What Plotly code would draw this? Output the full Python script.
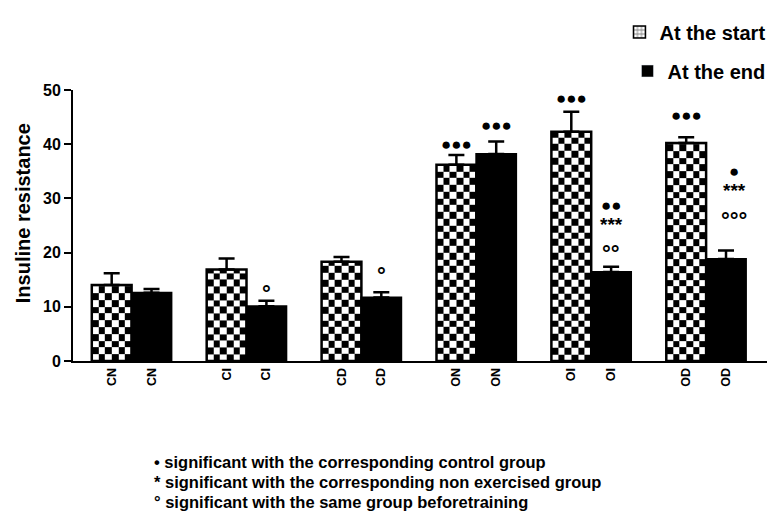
import plotly.graph_objects as go
import numpy as np

groups = ["CN", "CI", "CD", "ON", "OI", "OD"]
start_vals = [14.0, 16.9, 18.3, 36.2, 42.3, 40.2]
start_err = [2.2, 2.0, 0.9, 1.8, 3.7, 1.1]
end_vals = [12.6, 10.1, 11.7, 38.2, 16.4, 18.8]
end_err = [0.7, 1.0, 1.0, 2.3, 1.0, 1.6]

# significance marks: (group index, which bar, text, y level)
sig_group = [3, 4, 5, 3, 1, 2, 4, 4, 4, 5, 5, 5]
sig_bar = ["start", "start", "start", "end", "end", "end", "end", "end", "end", "end", "end", "end"]
sig_text = ["●●●", "●●●", "●●●", "●●●", "°", "°", "●●", "***", "°°", "●", "***", "°°°"]
sig_y = [40.0, 48.5, 45.3, 43.4, 13.4, 16.7, 28.7, 25.8, 20.8, 34.9, 32.0, 26.9]

notes = ["• significant with the corresponding control group",
         "* significant with the corresponding non exercised group",
         "° significant with the same group beforetraining"]

FONT = "Liberation Sans, Arial, sans-serif"
W = 0.3465          # bar width (axis units)
CELL_Y = 1.25

xs = np.arange(len(groups))
fig = go.Figure()

# checkerboard fill of "start" bars via heatmaps built from the values
for i, v in enumerate(start_vals):
    x_edges = np.linspace(i - W, i, 7)
    y_edges = list(np.arange(0, v, CELL_Y)) + [v]
    nr = len(y_edges) - 1
    z = [[(r + c) % 2 for c in range(6)] for r in range(nr)]
    fig.add_trace(go.Heatmap(x=x_edges, y=y_edges, z=z, zmin=0, zmax=1,
                             colorscale=[[0, "white"], [1, "black"]],
                             showscale=False, hoverinfo="skip"))

fig.add_trace(go.Bar(
    x=xs, y=start_vals, offset=-W, width=W, showlegend=False,
    marker=dict(color="rgba(0,0,0,0)", line=dict(color="black", width=2.5)),
    error_y=dict(type="data", array=start_err, arrayminus=[0]*6, symmetric=False,
                 color="black", thickness=2.5, width=8)))
fig.add_trace(go.Bar(
    x=xs, y=end_vals, offset=0, width=W, showlegend=False,
    marker=dict(color="black", line=dict(color="black", width=2)),
    error_y=dict(type="data", array=end_err, arrayminus=[0]*6, symmetric=False,
                 color="black", thickness=2.5, width=8)))

# legend-only traces (two right-aligned legends)
fig.add_trace(go.Bar(x=[None], y=[None], name="At the start", legend="legend",
                     marker=dict(color="white", line=dict(color="black", width=1.5),
                                 pattern=dict(shape="+", fgcolor="black", bgcolor="white",
                                              size=5, solidity=0.4))))
fig.add_trace(go.Bar(x=[None], y=[None], name="At the end", legend="legend2",
                     marker=dict(color="black")))

for g, b, t, y in zip(sig_group, sig_bar, sig_text, sig_y):
    xc = g - W / 2 if b == "start" else g + W / 2
    if t.startswith("°"):
        size, ys = 22, -5
    elif t.startswith("*"):
        size, ys = 19, -3
    else:
        size, ys = 17, 0
    fig.add_annotation(x=xc, y=y, xref="x", yref="y", text="<b>" + t + "</b>",
                       showarrow=False, yshift=ys,
                       xshift=8 if g == 5 and b == "end" else 0,
                       font=dict(family=FONT, size=size, color="black"))

for k, line in enumerate(notes):
    fig.add_annotation(x=(152 - 73) / 697, y=(361 - (462 + 20 * k)) / 271,
                       xref="paper", yref="paper", xanchor="left", yanchor="middle",
                       text="<b>" + line + "</b>", showarrow=False,
                       font=dict(family=FONT, size=16.5, color="black"))

# y-axis title
fig.add_annotation(x=(23 - 73) / 697, y=(361 - 213) / 271, xref="paper", yref="paper",
                   text="<b>Insuline resistance</b>", textangle=-90, showarrow=False,
                   xanchor="center", yanchor="middle",
                   font=dict(family=FONT, size=20, color="black"))

tickvals = [i - W / 2 for i in xs] + [i + W / 2 for i in xs]
ticktext = ["<b>" + g + "</b>" for g in groups] * 2

leg_common = dict(xref="paper", yref="paper", x=1.005, xanchor="right", yanchor="middle",
                  font=dict(family=FONT, size=20, color="black", weight="bold"),
                  bgcolor="rgba(0,0,0,0)", itemwidth=30)

fig.update_layout(
    width=774, height=524,
    margin=dict(l=73, r=4, t=90, b=163),
    plot_bgcolor="white", paper_bgcolor="white",
    barmode="overlay",
    font=dict(family=FONT, color="black"),
    showlegend=True,
    legend=dict(y=(361 - 32) / 271, **leg_common),
    legend2=dict(y=(361 - 71) / 271, **leg_common),
    xaxis=dict(range=[-0.51, 5.53], showline=True, linecolor="black", linewidth=2,
               tickvals=tickvals, ticktext=ticktext, tickangle=-90, ticks="",
               showgrid=False, zeroline=False, tickfont=dict(family=FONT, size=12.5),
               ticklabelstandoff=0, automargin=False),
    yaxis=dict(range=[0, 50], showline=True, linecolor="black", linewidth=2,
               ticks="outside", ticklen=7, tickwidth=2, tickcolor="black",
               tickvals=[0, 10, 20, 30, 40, 50], showgrid=False, zeroline=False,
               tickfont=dict(family=FONT, size=16, weight="bold"), automargin=False),
)

fig.write_html("out.html", config={"displayModeBar": False},
               post_script="document.body.style.margin='0';")
